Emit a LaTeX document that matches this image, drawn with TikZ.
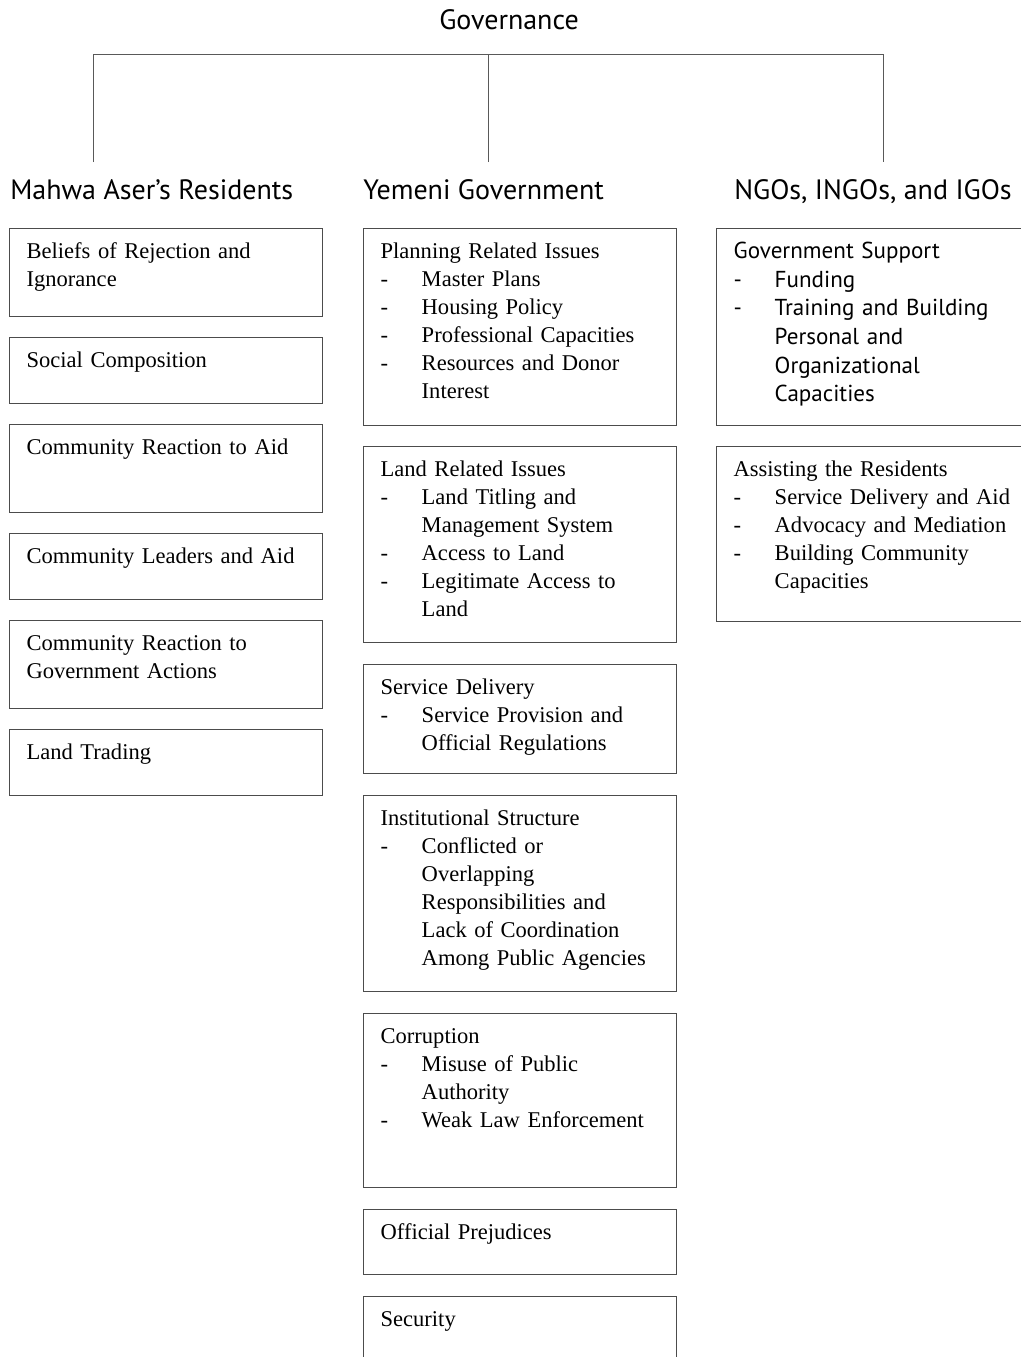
\documentclass[tikz,border=0pt]{standalone}
\usepackage{fontspec}
\setmainfont{Liberation Serif}
\newfontfamily\headfont{PT Sans}
\newcommand\bodyfont{\fontsize{16.9pt}{21pt}\selectfont}
\newcommand\ngofont{\headfont\fontsize{17.3pt}{21.4pt}\selectfont}
\newcommand\dsh{\makebox[30.8pt][l]{-}}
\newcommand\ind{\hspace*{30.8pt}}

\begin{document}
\begin{tikzpicture}[x=0.75pt,y=-0.75pt,
	box/.style={draw=black!70,line width=0.9pt,anchor=north west,inner xsep=12.8pt,inner ysep=0pt,
		text width=209pt,text height=22.7pt,text depth={#1*0.75pt-22.7pt},align=left,font=\bodyfont},
	head/.style={anchor=base west,inner sep=0pt,font=\headfont\fontsize{21pt}{24pt}\selectfont},
	tree/.style={draw=black!65,line width=0.7pt}]
	\useasboundingbox (0,0) rectangle (1021,1357);
	% tree
	\node[head,anchor=base] (gov) at (509,29.3) {Governance};
	\coordinate (bar) at (509,54);
	\coordinate (res-top) at (93,162);
	\coordinate (govt-top) at (488,162);
	\coordinate (ngo-top) at (883,162);
	\draw[tree] (res-top) |- (bar -| ngo-top) -- (ngo-top);
	\draw[tree] (govt-top) -- (govt-top |- bar);
	\node[head] (res) at (10,199.3) {Mahwa Aser’s Residents};
	\node[head] (govt) at (363,199.3) {Yemeni Government};
	\node[head] (ngo) at (734,199.3) {NGOs, INGOs, and IGOs};
	% residents
	\foreach \t/\y/\h [count=\i] in {{Beliefs of Rejection and\\Ignorance}/228/88, {Social Composition}/337/66,
		{Community Reaction to Aid}/424/88, {Community Leaders and Aid}/533/66,
		{Community Reaction to\\Government Actions}/620/88, {Land Trading}/729/66}
	{\node[box=\h] (res\i) at (9,\y) {\t};}
	% government
	\node[box=197] (govt1) at (363,228) {Planning Related Issues\\\dsh Master Plans\\\dsh Housing Policy\\
		\dsh Professional Capacities\\\dsh Resources and Donor\\\ind Interest};
	\node[box=196] (govt2) at (363,446) {Land Related Issues\\\dsh Land Titling and\\\ind Management System\\
		\dsh Access to Land\\\dsh Legitimate Access to\\\ind Land};
	\node[box=109] (govt3) at (363,664) {Service Delivery\\\dsh Service Provision and\\\ind Official Regulations};
	\node[box=196] (govt4) at (363,795) {Institutional Structure\\\dsh Conflicted or\\\ind Overlapping\\
		\ind Responsibilities and\\\ind Lack of Coordination\\\ind Among Public Agencies};
	\node[box=174] (govt5) at (363,1013) {Corruption\\\dsh Misuse of Public\\\ind Authority\\\dsh Weak Law Enforcement};
	\node[box=65] (govt6) at (363,1209) {Official Prejudices};
	\node[box=66] (govt7) at (363,1296) {Security};
	% ngos
	\node[box=197,text width=216pt,font=\ngofont] (ngo1) at (716,228) {Government Support\\\dsh Funding\\
		\dsh Training and Building\\\ind Personal and\\\ind Organizational\\\ind Capacities};
	\node[box=175,text width=216pt] (ngo2) at (716,446) {Assisting the Residents\\\dsh Service Delivery and Aid\\
		\dsh Advocacy and Mediation\\\dsh Building Community\\\ind Capacities};
\end{tikzpicture}
\end{document}
